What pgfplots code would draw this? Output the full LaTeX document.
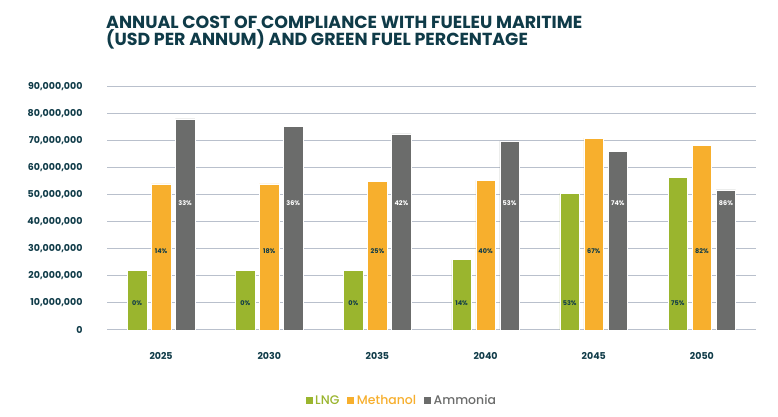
\documentclass[border=0pt]{standalone}
\usepackage{pgfplots}
\pgfplotsset{compat=1.18}
\usepackage{pgfplotstable}
\usepackage{fontspec}
\setmainfont{Poppins}
\newfontfamily\popmed{Poppins Medium}
\definecolor{lngc}{HTML}{9AB52E}
\definecolor{metc}{HTML}{F7AF2D}
\definecolor{ammc}{HTML}{6B6C6B}
\definecolor{titc}{HTML}{0F3B48}
\definecolor{gridc}{HTML}{B9C0CC}

\pgfplotstableread{
x lng meth amm lngp methp ammp
0 22200000 54100000 78200000 0 14 33
1 22200000 54100000 75500000 0 18 36
2 22200000 55000000 72600000 0 25 42
3 26000000 55400000 70000000 14 40 53
4 50700000 71100000 66100000 53 67 74
5 56600000 68300000 51900000 75 82 86
}\data

\begin{document}
\begin{tikzpicture}
\path (0,0) rectangle (778bp,417bp);
\node[anchor=base west, text=titc, font=\fontsize{17.5}{18}\selectfont\bfseries, inner sep=0pt]
  at (106bp,388bp) {ANNUAL COST OF COMPLIANCE WITH FUELEU MARITIME};
\node[anchor=base west, text=titc, font=\fontsize{17.5}{18}\selectfont\bfseries, inner sep=0pt]
  at (106bp,371bp) {(USD PER ANNUM) AND GREEN FUEL PERCENTAGE};
\begin{axis}[
  at={(107bp,87bp)}, anchor=south west,
  scale only axis, width=649bp, height=243bp,
  xmin=-0.5, xmax=5.5, ymin=0, ymax=90000000,
  xtick={0,1,2,3,4,5},
  xticklabels={2025,2030,2035,2040,2045,2050},
  ytick={0,10000000,...,90000000},
  scaled y ticks=false,
  yticklabel style={/pgf/number format/fixed, /pgf/number format/1000 sep={,}, /pgf/number format/assume math mode=true, xshift=-21bp},
  xticklabel style={yshift=-19bp},
  tick label style={font=\fontsize{9.5}{10}\selectfont\bfseries, text=titc},
  major tick length=0pt,
  axis line style={draw=none},
  ymajorgrids, grid style={gridc, line width=1bp},
  legend style={at={(0.4535,-0.29)}, anchor=center, draw=none, legend columns=-1,
    font=\fontsize{12.5}{13}\popmed\selectfont, inner sep=0pt,
    /tikz/every even column/.append style={column sep=5bp}},
  legend image code/.code={\fill[#1] (0bp,-4bp) rectangle (8bp,4bp);},
  clip=false,
]
\addplot[ybar, bar width=19.5bp, bar shift=-24bp, fill=lngc, draw=white, line width=0.6bp] table[x=x, y=lng] {\data};
\addlegendentry{\textcolor{lngc}{LNG}}
\addplot[ybar, bar width=19.5bp, bar shift=0bp, fill=metc, draw=white, line width=0.6bp] table[x=x, y=meth] {\data};
\addlegendentry{\textcolor{metc}{Methanol}}
\addplot[ybar, bar width=19.5bp, bar shift=24bp, fill=ammc, draw=white, line width=0.6bp] table[x=x, y=amm] {\data};
\addlegendentry{\textcolor{ammc}{Ammonia}}
\addplot[draw=none, mark=none, forget plot, point meta=explicit,
  nodes near coords={\pgfmathprintnumber[assume math mode=true]{\pgfplotspointmeta}\%},
  nodes near coords style={anchor=center, text=titc, font=\fontsize{6.5}{7}\selectfont\bfseries}]
  table[x expr=\thisrow{x}-0.2222, y expr=10100000, meta=lngp] {\data};
\addplot[draw=none, mark=none, forget plot, point meta=explicit,
  nodes near coords={\pgfmathprintnumber[assume math mode=true]{\pgfplotspointmeta}\%},
  nodes near coords style={anchor=center, text=titc, font=\fontsize{6.5}{7}\selectfont\bfseries}]
  table[x=x, y expr=29300000, meta=methp] {\data};
\addplot[draw=none, mark=none, forget plot, point meta=explicit,
  nodes near coords={\pgfmathprintnumber[assume math mode=true]{\pgfplotspointmeta}\%},
  nodes near coords style={anchor=center, text=white, font=\fontsize{6.5}{7}\selectfont\bfseries}]
  table[x expr=\thisrow{x}+0.2222, y expr=47000000, meta=ammp] {\data};
\end{axis}
\end{tikzpicture}
\end{document}
